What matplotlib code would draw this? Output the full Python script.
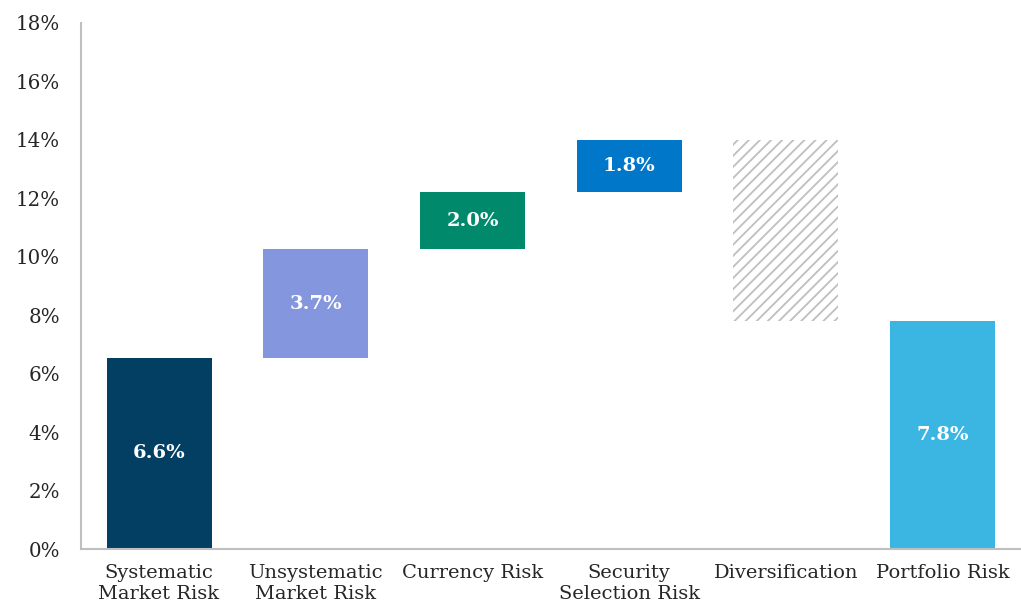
import matplotlib.pyplot as plt
from matplotlib.ticker import FuncFormatter

# waterfall data (in %)
categories = ['Systematic\nMarket Risk', 'Unsystematic\nMarket Risk', 'Currency Risk',
              'Security\nSelection Risk', 'Diversification', 'Portfolio Risk']
bottoms = [0.0, 6.55, 10.25, 12.2, 7.8, 0.0]
heights = [6.55, 3.7, 1.95, 1.8, 6.2, 7.8]
labels = ['6.6%', '3.7%', '2.0%', '1.8%', '', '7.8%']
colors = ['#023F63', '#8496DE', '#00896B', '#0077C8', 'white', '#3BB6E3']

plt.rcParams['font.family'] = ['DejaVu Serif']
plt.rcParams['hatch.linewidth'] = 1.3

fig, ax = plt.subplots(figsize=(10.21, 6.15), dpi=100)
fig.subplots_adjust(left=0.079, right=1.0, top=0.963, bottom=0.107)

x = range(len(categories))
for i in x:
    if categories[i] == 'Diversification':
        ax.bar(i, heights[i], bottom=bottoms[i], width=0.67, color='white',
               edgecolor='#BFBFBF', linewidth=0, hatch='///')
    else:
        ax.bar(i, heights[i], bottom=bottoms[i], width=0.67, color=colors[i], linewidth=0)
    if labels[i]:
        ax.text(i, bottoms[i] + heights[i] / 2, labels[i], ha='center', va='center',
                color='white', fontsize=14, fontweight='bold')

ax.set_xlim(-0.5, 5.5)
ax.set_ylim(0, 18)
ax.set_yticks(range(0, 19, 2))
ax.yaxis.set_major_formatter(FuncFormatter(lambda v, p: '%d%%' % v))
ax.set_xticks(list(x))
ax.set_xticklabels(categories, fontsize=14, color='#262626', linespacing=1.15)
ax.tick_params(axis='y', labelsize=14.3, length=0, pad=15, colors='#262626')
ax.tick_params(axis='x', length=0, pad=11)

for s in ['top', 'right']:
    ax.spines[s].set_visible(False)
ax.spines['left'].set_color('#BFBFBF')
ax.spines['bottom'].set_color('#BFBFBF')
ax.spines['left'].set_linewidth(1.5)
ax.spines['bottom'].set_linewidth(1.5)

fig.savefig('out.png', dpi=100)
